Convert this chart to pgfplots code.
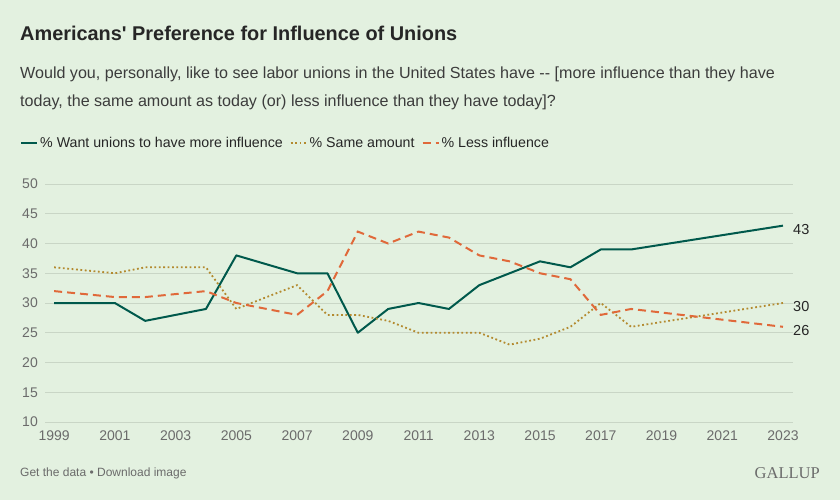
\documentclass[border=0pt]{standalone}
\usepackage{pgfplots}
\pgfplotsset{compat=1.18}
\usepackage{fontspec}
\setmainfont{Liberation Sans}
\newfontfamily\serifgallup{Liberation Serif}
\definecolor{bg}{HTML}{E3F1E0}
\definecolor{gridc}{HTML}{C9D6C6}
\definecolor{cmore}{HTML}{00594C}
\definecolor{csame}{HTML}{B38A2F}
\definecolor{cless}{HTML}{E0693A}
\definecolor{txt}{HTML}{262626}
\definecolor{tick}{HTML}{6B6B6B}

\pgfplotstableread{
year more
1999 30
2001 30
2002 27
2004 29
2005 38
2007 35
2008 35
2009 25
2010 29
2011 30
2012 29
2013 33
2015 37
2016 36
2017 39
2018 39
2023 43
}\moredata
\pgfplotstableread{
year same
1999 36
2001 35
2002 36
2004 36
2005 29
2007 33
2008 28
2009 28
2010 27
2011 25
2012 25
2013 25
2014 23
2015 24
2016 26
2017 30
2018 26
2023 30
}\samedata
\pgfplotstableread{
year less
1999 32
2001 31
2002 31
2004 32
2005 30
2007 28
2008 32
2009 42
2010 40
2011 42
2012 41
2013 38
2014 37
2015 35
2016 34
2017 28
2018 29
2023 26
}\lessdata

\begin{document}
\begin{tikzpicture}
\useasboundingbox (0,0) rectangle (840pt,-500pt);
\fill[bg] (0,0) rectangle (840pt,-500pt);
\node[anchor=base west, inner sep=0pt, font=\fontsize{19.9}{22}\selectfont\bfseries, text=txt] at (20pt,-41pt) {Americans\textquotesingle\ Preference for Influence of Unions};
\node[anchor=base west, inner sep=0pt, font=\fontsize{16.1}{19}\selectfont, text=txt!90] at (20pt,-79pt) {Would you, personally, like to see labor unions in the United States have -{}- [more influence than they have};
\node[anchor=base west, inner sep=0pt, font=\fontsize{16.1}{19}\selectfont, text=txt!90] at (20pt,-107pt) {today, the same amount as today (or) less influence than they have today]?};
\node[anchor=base west, inner sep=0pt, font=\fontsize{12}{14}\selectfont, text=tick] at (20pt,-476pt) {Get the data \textbullet\ Download image};
\node[anchor=base east, inner sep=0pt, font=\serifgallup\fontsize{16.5}{18}\selectfont, text=tick] at (820pt,-478pt) {GALLUP};
\begin{axis}[
  at={(45pt,-422pt)}, anchor=south west,
  scale only axis, width=748pt, height=238pt,
  xmin=1998.70, xmax=2023.33, ymin=10, ymax=50,
  xtick={1999,2001,...,2023}, ytick={10,15,...,50},
  axis line style={draw=none}, major tick length=0pt,
  ymajorgrids, grid style={gridc, line width=0.8pt},
  /pgf/number format/assume math mode=true,
  /pgf/number format/1000 sep={},
  tick label style={font=\fontsize{14}{16}\selectfont, text=tick},
  yticklabel style={anchor=east, inner sep=0pt, xshift=-7pt},
  xticklabel style={anchor=north, inner sep=0pt, yshift=-9pt},
  clip=false,
  legend columns=-1,
  legend style={at={(-0.0334,1.172)}, anchor=west, draw=none, fill=none, inner sep=0pt,
    font=\fontsize{14.2}{16}\selectfont, text=txt,
    nodes={inner sep=2pt},
    /tikz/every even column/.append style={column sep=5pt}},
  legend image code/.code={\draw[#1] (0pt,0pt) -- (16pt,0pt);},
]
\addplot[cmore, line width=2pt, line join=round] table[x=year,y=more] {\moredata};
\addlegendentry{\% Want unions to have more influence}
\addplot[csame, line width=1.8pt, dash pattern=on 1.8pt off 2.6pt] table[x=year,y=same] {\samedata};
\addlegendentry{\% Same amount}
\addplot[cless, line width=2pt, dash pattern=on 8pt off 5pt] table[x=year,y=less] {\lessdata};
\addlegendentry{\% Less influence}
\node[anchor=west, inner sep=0pt, xshift=10pt, yshift=-4pt, font=\fontsize{14.5}{16}\selectfont, text=txt] at (axis cs:2023,43) {43};
\node[anchor=west, inner sep=0pt, xshift=10pt, yshift=-3.5pt, font=\fontsize{14.5}{16}\selectfont, text=txt] at (axis cs:2023,30) {30};
\node[anchor=west, inner sep=0pt, xshift=10pt, yshift=-3.5pt, font=\fontsize{14.5}{16}\selectfont, text=txt] at (axis cs:2023,26) {26};
\end{axis}
\end{tikzpicture}
\end{document}
